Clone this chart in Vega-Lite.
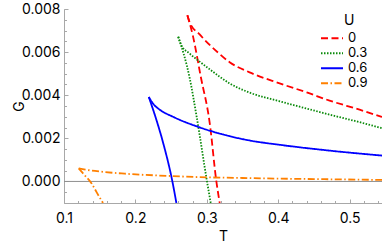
{
  "$schema": "https://vega.github.io/schema/vega-lite/v6.json",
  "width": 318,
  "height": 194,
  "autosize": {"type": "none"},
  "padding": {"left": 64, "top": 9, "right": 0, "bottom": 45},
  "config": {
    "view": {"stroke": null},
    "axis": {
      "grid": false,
      "labelFlush": false,
      "domainColor": "#a8a8a8",
      "tickColor": "#a8a8a8",
      "labelFont": "Inter",
      "labelFontSize": 14,
      "labelColor": "#000000",
      "titleFont": "Inter",
      "titleFontSize": 14,
      "titleFontWeight": "normal",
      "titleColor": "#000000"
    },
    "legend": {
      "labelFont": "Inter",
      "titleFont": "Inter"
    }
  },
  "datasets": {
    "curves": [
      {"U": "0", "b": "lo", "T": 0.3181, "G": -0.0010},
      {"U": "0", "b": "lo", "T": 0.3134, "G": 0.0000},
      {"U": "0", "b": "lo", "T": 0.3041, "G": 0.00271},
      {"U": "0", "b": "lo", "T": 0.2915, "G": 0.00487},
      {"U": "0", "b": "lo", "T": 0.2807, "G": 0.00673},
      {"U": "0", "b": "lo", "T": 0.2728, "G": 0.00771},
      {"U": "0", "b": "up", "T": 0.2728, "G": 0.00771},
      {"U": "0", "b": "up", "T": 0.2761, "G": 0.00738},
      {"U": "0", "b": "up", "T": 0.2900, "G": 0.00682},
      {"U": "0", "b": "up", "T": 0.3157, "G": 0.00598},
      {"U": "0", "b": "up", "T": 0.3320, "G": 0.00553},
      {"U": "0", "b": "up", "T": 0.3600, "G": 0.00506},
      {"U": "0", "b": "up", "T": 0.4020, "G": 0.00455},
      {"U": "0", "b": "up", "T": 0.4400, "G": 0.00413},
      {"U": "0", "b": "up", "T": 0.4720, "G": 0.00375},
      {"U": "0", "b": "up", "T": 0.5140, "G": 0.00333},
      {"U": "0", "b": "up", "T": 0.5454, "G": 0.00299},

      {"U": "0.3", "b": "lo", "T": 0.3055, "G": -0.0010},
      {"U": "0.3", "b": "lo", "T": 0.3003, "G": 0.0000},
      {"U": "0.3", "b": "lo", "T": 0.2858, "G": 0.00300},
      {"U": "0.3", "b": "lo", "T": 0.2760, "G": 0.00480},
      {"U": "0.3", "b": "lo", "T": 0.2600, "G": 0.00671},
      {"U": "0.3", "b": "up", "T": 0.2600, "G": 0.00671},
      {"U": "0.3", "b": "up", "T": 0.2647, "G": 0.00630},
      {"U": "0.3", "b": "up", "T": 0.2750, "G": 0.00596},
      {"U": "0.3", "b": "up", "T": 0.2900, "G": 0.00556},
      {"U": "0.3", "b": "up", "T": 0.3050, "G": 0.00518},
      {"U": "0.3", "b": "up", "T": 0.3180, "G": 0.00486},
      {"U": "0.3", "b": "up", "T": 0.3320, "G": 0.00455},
      {"U": "0.3", "b": "up", "T": 0.3600, "G": 0.00412},
      {"U": "0.3", "b": "up", "T": 0.4020, "G": 0.00372},
      {"U": "0.3", "b": "up", "T": 0.4400, "G": 0.00338},
      {"U": "0.3", "b": "up", "T": 0.4720, "G": 0.00310},
      {"U": "0.3", "b": "up", "T": 0.5140, "G": 0.00275},
      {"U": "0.3", "b": "up", "T": 0.5454, "G": 0.00247},

      {"U": "0.6", "b": "lo", "T": 0.2574, "G": -0.0010},
      {"U": "0.6", "b": "lo", "T": 0.2518, "G": 0.0000},
      {"U": "0.6", "b": "lo", "T": 0.2396, "G": 0.00170},
      {"U": "0.6", "b": "lo", "T": 0.2294, "G": 0.00286},
      {"U": "0.6", "b": "lo", "T": 0.2187, "G": 0.00392},
      {"U": "0.6", "b": "up", "T": 0.2187, "G": 0.00392},
      {"U": "0.6", "b": "up", "T": 0.2260, "G": 0.00356},
      {"U": "0.6", "b": "up", "T": 0.2340, "G": 0.00333},
      {"U": "0.6", "b": "up", "T": 0.2527, "G": 0.00300},
      {"U": "0.6", "b": "up", "T": 0.2890, "G": 0.00252},
      {"U": "0.6", "b": "up", "T": 0.3320, "G": 0.00210},
      {"U": "0.6", "b": "up", "T": 0.3600, "G": 0.00190},
      {"U": "0.6", "b": "up", "T": 0.4020, "G": 0.00170},
      {"U": "0.6", "b": "up", "T": 0.4720, "G": 0.00143},
      {"U": "0.6", "b": "up", "T": 0.5454, "G": 0.00120},

      {"U": "0.9", "b": "lo", "T": 0.1546, "G": -0.0010},
      {"U": "0.9", "b": "lo", "T": 0.1460, "G": -0.00052},
      {"U": "0.9", "b": "lo", "T": 0.1384, "G": -0.00008},
      {"U": "0.9", "b": "lo", "T": 0.1300, "G": 0.00025},
      {"U": "0.9", "b": "lo", "T": 0.1206, "G": 0.00061},
      {"U": "0.9", "b": "up", "T": 0.1206, "G": 0.00061},
      {"U": "0.9", "b": "up", "T": 0.1300, "G": 0.00055},
      {"U": "0.9", "b": "up", "T": 0.1500, "G": 0.00046},
      {"U": "0.9", "b": "up", "T": 0.1850, "G": 0.00036},
      {"U": "0.9", "b": "up", "T": 0.2434, "G": 0.00026},
      {"U": "0.9", "b": "up", "T": 0.2900, "G": 0.00020},
      {"U": "0.9", "b": "up", "T": 0.3500, "G": 0.00016},
      {"U": "0.9", "b": "up", "T": 0.4000, "G": 0.00013},
      {"U": "0.9", "b": "up", "T": 0.4500, "G": 0.00011},
      {"U": "0.9", "b": "up", "T": 0.5454, "G": 0.00007}
    ],
    "zero": [{"G": 0}]
  },
  "resolve": {"axis": {"x": "independent", "y": "independent"}},
  "layer": [
    {
      "data": {"name": "zero"},
      "mark": {"type": "rule", "color": "#8f8f8f", "strokeWidth": 1},
      "encoding": {
        "y": {
          "field": "G", "type": "quantitative",
          "scale": {"domain": [-0.001, 0.008], "nice": false, "zero": false},
          "axis": {
            "orient": "left", "title": null, "labels": false, "domain": false,
            "tickSize": -2.5, "tickColor": "#a8a8a8",
            "values": [-0.001, -0.0005, 0, 0.0005, 0.001, 0.0015, 0.002, 0.0025, 0.003, 0.0035, 0.004, 0.0045, 0.005, 0.0055, 0.006, 0.0065, 0.007, 0.0075, 0.008]
          }
        }
      }
    },
    {
      "data": {"name": "zero"},
      "mark": {"type": "rule", "opacity": 0},
      "encoding": {
        "x": {
          "datum": 0.1, "type": "quantitative",
          "axis": {
            "orient": "bottom", "title": null, "labels": false, "domain": false,
            "tickSize": -2.5, "tickColor": "#a8a8a8",
            "values": [0.12, 0.14, 0.16, 0.18, 0.22, 0.24, 0.26, 0.28, 0.32, 0.34, 0.36, 0.38, 0.42, 0.44, 0.46, 0.48, 0.52, 0.54]
          }
        }
      }
    },
    {
      "data": {"name": "curves"},
      "mark": {"type": "line", "strokeWidth": 1.8, "clip": true, "interpolate": "monotone"},
      "encoding": {
        "x": {
          "field": "T", "type": "quantitative",
          "scale": {"domain": [0.1, 0.5454], "nice": false, "zero": false},
          "axis": {
            "orient": "bottom", "title": "T", "values": [0.1, 0.2, 0.3, 0.4, 0.5], "format": ".1f",
            "tickSize": -4, "labelPadding": 12, "titlePadding": 4
          }
        },
        "y": {
          "field": "G", "type": "quantitative",
          "axis": {
            "orient": "left", "title": "G", "values": [0, 0.002, 0.004, 0.006, 0.008], "format": ".3f",
            "tickSize": -4, "labelPadding": 8, "titlePadding": -5
          }
        },
        "detail": {"field": "b", "type": "nominal"},
        "order": {"field": "T", "type": "quantitative"},
        "color": {
          "field": "U", "type": "nominal",
          "scale": {"domain": ["0", "0.3", "0.6", "0.9"], "range": ["#ff0000", "#0a8a0a", "#0000ff", "#ff8000"]},
          "legend": {
            "title": "\u00a0\u00a0U", "orient": "none", "legendX": 256, "legendY": 5,
            "symbolType": "stroke", "symbolSize": 484, "symbolStrokeWidth": 2,
            "labelFontSize": 13, "titleFontSize": 14, "titleFontWeight": "normal",
            "titleAnchor": "middle", "titleAlign": "left", "titlePadding": 3,
            "clipHeight": 14.5, "rowPadding": 0, "labelOffset": 4
          }
        },
        "strokeDash": {
          "field": "U", "type": "nominal",
          "scale": {"domain": ["0", "0.3", "0.6", "0.9"], "range": [[7, 3.5], [1.5, 1.5], [1, 0], [7, 2.5, 1.5, 2.5]]},
          "legend": {
            "title": "\u00a0\u00a0U", "orient": "none", "legendX": 256, "legendY": 5,
            "symbolType": "stroke", "symbolSize": 484, "symbolStrokeWidth": 2,
            "labelFontSize": 13, "titleFontSize": 14, "titleFontWeight": "normal",
            "titleAnchor": "middle", "titleAlign": "left", "titlePadding": 3,
            "clipHeight": 14.5, "rowPadding": 0, "labelOffset": 4
          }
        }
      }
    }
  ]
}
